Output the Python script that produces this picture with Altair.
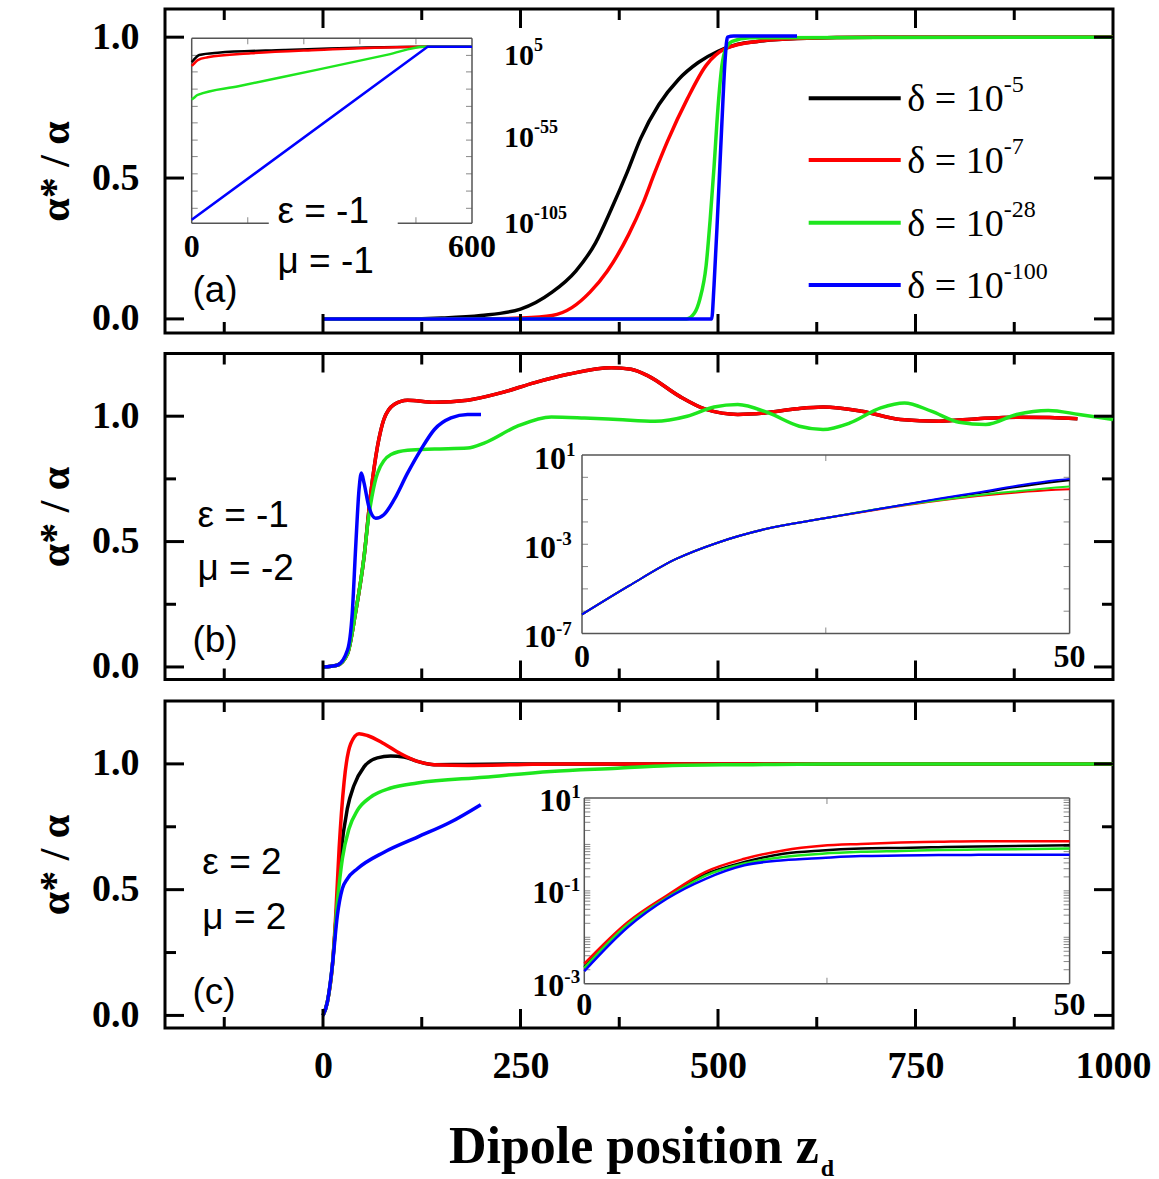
import math
import altair as alt
import pandas as pd

SERIF = "Liberation Serif"
SANS = "Liberation Sans"
SERIES = ["k", "r", "g", "b"]
COLORS = {"k": "#000000", "r": "#ff0000", "g": "#1ee61e", "b": "#0000ff"}
FRAME_GRAY = "#555555"

W = 948
H = {"a": 324, "b": 326, "c": 327}
X_DOMAIN = [-200, 1000]
Y_DOMAIN = {"a": [-0.05, 1.1], "b": [-0.05, 1.25], "c": [-0.05, 1.25]}

X_TICKS_MAJOR = [0, 250, 500, 750]
X_TICKS_MINOR = [-125, 125, 375, 625, 875]
X_LABELS = [0, 250, 500, 750, 1000]
Y_LABELS = [0.0, 0.5, 1.0]
Y_TICKS_MAJOR = [0.0, 0.5, 1.0]
Y_TICKS_MINOR = {"a": [], "b": [0.25, 0.75], "c": [0.25, 0.75]}

# ---------------- panel (a) main curves ----------------
A_X = {
    "k": [0, 100, 150, 200, 250, 290, 320, 345, 365, 385, 402, 425, 450, 475, 500, 525, 550, 600, 700, 1000],
    "r": [0, 200, 250, 290, 315, 338, 360, 387, 405, 420, 436, 461, 485, 510, 550, 600, 700, 1000],
    "g": [0, 460, 470, 477, 485, 490, 495, 500, 505, 510, 518, 540, 1000],
    "b": [0, 492, 495, 500, 505, 509, 512, 520, 600],
}
A_Y = {
    "k": [0, 0, 0.003, 0.012, 0.035, 0.095, 0.17, 0.27, 0.39, 0.52, 0.64, 0.76, 0.85, 0.91, 0.95, 0.975, 0.985, 0.995, 1.0, 1.0],
    "r": [0, 0, 0.003, 0.012, 0.04, 0.095, 0.17, 0.30, 0.41, 0.52, 0.63, 0.78, 0.90, 0.96, 0.985, 0.995, 1.0, 1.0],
    "g": [0, 0, 0.02, 0.07, 0.19, 0.35, 0.54, 0.75, 0.9, 0.96, 0.985, 0.998, 1.0],
    "b": [0, 0, 0.12, 0.4, 0.7, 0.92, 1.0, 1.004, 1.004],
}

# ---------------- panel (b) main curves ----------------
B_X = {
    "k": [0, 18, 31, 41, 52, 60, 69, 77, 90, 107, 141, 183, 225, 267, 310, 365, 390, 412, 451, 485, 525, 559, 600, 633, 682, 731, 780, 829, 878, 920, 955],
    "r": [0, 18, 31, 41, 52, 60, 69, 77, 90, 107, 141, 183, 225, 267, 310, 365, 390, 412, 451, 485, 525, 559, 600, 633, 682, 731, 780, 829, 878, 920, 955],
    "g": [0, 18, 31, 41, 52, 57, 62, 69, 86, 107, 141, 183, 204, 246, 289, 331, 373, 420, 461, 495, 525, 564, 603, 633, 667, 706, 736, 770, 805, 839, 878, 918, 957, 1000],
    "b": [0, 18, 31, 37, 41.4, 45.6, 48.5, 52, 58, 66.7, 77, 90, 107, 124, 141, 162, 183, 200],
}
B_Y = {
    "k": [0, 0.007, 0.053, 0.213, 0.44, 0.68, 0.88, 0.987, 1.047, 1.064, 1.056, 1.064, 1.093, 1.133, 1.167, 1.193, 1.187, 1.16, 1.08, 1.027, 1.007, 1.013, 1.03, 1.037, 1.02, 0.987, 0.98, 0.99, 0.996, 0.995, 0.99],
    "r": [0, 0.007, 0.053, 0.213, 0.44, 0.68, 0.88, 0.987, 1.047, 1.064, 1.056, 1.064, 1.093, 1.133, 1.167, 1.193, 1.187, 1.16, 1.08, 1.027, 1.007, 1.013, 1.03, 1.037, 1.02, 0.987, 0.98, 0.99, 0.996, 0.995, 0.99],
    "g": [0, 0.007, 0.053, 0.213, 0.44, 0.58, 0.68, 0.773, 0.847, 0.864, 0.869, 0.873, 0.893, 0.96, 0.997, 0.993, 0.987, 0.98, 1.0, 1.037, 1.047, 1.013, 0.96, 0.947, 0.973, 1.033, 1.053, 1.02, 0.976, 0.967, 1.007, 1.023, 1.007, 0.987],
    "b": [0, 0.007, 0.067, 0.213, 0.48, 0.707, 0.773, 0.733, 0.64, 0.593, 0.607, 0.667, 0.773, 0.867, 0.947, 0.993, 1.007, 1.007],
}

# ---------------- panel (c) main curves ----------------
C_X = {
    "k": [0, 5.5, 11.9, 16.1, 22.4, 30.8, 39.2, 51.9, 68.8, 85.7, 102.5, 119.5, 140.6, 180, 250, 1000],
    "r": [0, 5.5, 11.9, 16.1, 20.4, 26.7, 35.1, 45.6, 56.2, 77.3, 98.4, 119.5, 140.6, 182.8, 246, 300, 1000],
    "g": [0, 5.5, 11.9, 18.2, 24.5, 32.9, 43.5, 60.3, 85.7, 119.5, 203.9, 288.3, 372.6, 436, 534, 633, 1000],
    "b": [0, 5.5, 11.9, 18.2, 24.5, 30.8, 43.5, 77.3, 119.5, 161.7, 199.7],
}
C_Y = {
    "k": [0, 0.053, 0.2, 0.371, 0.636, 0.822, 0.914, 0.988, 1.024, 1.031, 1.027, 1.01, 0.997, 0.998, 1.0, 1.0],
    "r": [0, 0.053, 0.199, 0.398, 0.663, 0.928, 1.08, 1.12, 1.113, 1.08, 1.04, 1.01, 0.997, 0.994, 0.997, 1.0, 1.0],
    "g": [0, 0.053, 0.2, 0.451, 0.623, 0.742, 0.815, 0.868, 0.904, 0.924, 0.947, 0.970, 0.983, 0.993, 0.997, 1.0, 1.0],
    "b": [0, 0.053, 0.2, 0.398, 0.504, 0.543, 0.583, 0.649, 0.709, 0.769, 0.838],
}

# ---------------- insets (y values are log10 of alpha*/alpha) ----------------
IA_X = {
    "k": [0, 4, 16, 56, 198, 498, 600],
    "r": [0, 4, 13, 34, 127, 270, 498, 600],
    "g": [0, 5, 13, 100, 270, 420, 498, 600],
    "b": [0, 505, 600],
}
IA_Y = {
    "k": [-0.5, 0.9, 4.3, 5.8, 7.6, 9.8, 9.8],
    "r": [-3.0, -1.8, 0.9, 2.7, 5.4, 7.6, 9.8, 9.8],
    "g": [-25.5, -24.2, -22.4, -16.6, -5.5, 4.5, 9.8, 9.8],
    "b": [-105.7, 9.8, 9.8],
}
IB_XS = [0, 4.8, 9.6, 13.9, 18.7, 24.7, 30.7, 36.7, 40.6, 44.6, 48.6, 50]
IB_X = {s: IB_XS for s in SERIES}
IB_Y = {
    "k": [-6.15, -4.87, -3.67, -2.93, -2.33, -1.85, -1.40, -0.97, -0.72, -0.44, -0.20, -0.13],
    "r": [-6.15, -4.87, -3.67, -2.93, -2.33, -1.85, -1.42, -1.04, -0.84, -0.68, -0.56, -0.53],
    "g": [-6.15, -4.87, -3.67, -2.93, -2.33, -1.85, -1.40, -1.02, -0.80, -0.62, -0.46, -0.41],
    "b": [-6.15, -4.87, -3.67, -2.93, -2.33, -1.85, -1.40, -0.95, -0.68, -0.38, -0.13, -0.07],
}
IC_XS = [0, 4.5, 8.5, 12.5, 16.5, 20.5, 24.5, 28.5, 32.6, 36.5, 40.6, 50]
IC_X = {s: IC_XS for s in SERIES}
IC_Y = {
    "k": [-2.64, -1.70, -1.13, -0.64, -0.38, -0.20, -0.13, -0.09, -0.075, -0.06, -0.045, -0.02],
    "r": [-2.57, -1.67, -1.10, -0.59, -0.31, -0.13, -0.03, 0.01, 0.04, 0.055, 0.07, 0.07],
    "g": [-2.66, -1.72, -1.15, -0.67, -0.41, -0.27, -0.20, -0.16, -0.14, -0.12, -0.11, -0.09],
    "b": [-2.73, -1.78, -1.17, -0.74, -0.45, -0.34, -0.29, -0.25, -0.24, -0.23, -0.225, -0.22],
}

LEGEND_EXP = ["-5", "-7", "-28", "-100"]
LEGEND_ROW_Y = [0.783, 0.564, 0.341, 0.120]

ANNOT = {
    "a": {"label": ["ε = -1", "μ = -1", "(a)"], "x": [-57.7, -57.7, -165.3], "y": [0.339, 0.162, 0.061]},
    "b": {"label": ["ε = -1", "μ = -2", "(b)"], "x": [-159, -159, -165.3], "y": [0.557, 0.345, 0.059]},
    "c": {"label": ["ε = 2", "μ = 2", "(c)"], "x": [-152.7, -152.7, -165.3], "y": [0.563, 0.345, 0.046]},
}


def X(field, axis=None):
    return alt.X(f"{field}:Q", scale=alt.Scale(domain=X_DOMAIN, nice=False, zero=False), axis=axis)


def Y(field, p, axis=None):
    return alt.Y(f"{field}:Q", scale=alt.Scale(domain=Y_DOMAIN[p], nice=False, zero=False), axis=axis)


X_AXIS = alt.Axis(values=X_LABELS, format="d", title=None, labelFont=SERIF, labelFontSize=38,
                  labelFontWeight="bold", labelColor="black", labelPadding=19, labelFlush=False,
                  labelOverlap=False, ticks=False, tickSize=0, domain=False, grid=False)
Y_AXIS = alt.Axis(values=Y_LABELS, format=".1f", title="α* / α", titleFont=SERIF, titleFontSize=42,
                  titleFontWeight="bold", titleColor="black", titlePadding=14, labelFont=SERIF,
                  labelFontSize=38, labelFontWeight="bold", labelColor="black", labelPadding=26,
                  labelFlush=False, labelOverlap=False, ticks=False, tickSize=0, domain=False, grid=False)


def main_layers(p, xs, ys, show_x):
    layers = []
    for i, s in enumerate(SERIES):
        df = pd.DataFrame({"zd": xs[s], "val": ys[s]})
        layers.append(
            alt.Chart(df).mark_line(color=COLORS[s], strokeWidth=3.5, interpolate="monotone")
            .encode(x=X("zd", X_AXIS if (i == 0 and show_x) else None),
                    y=Y("val", p, Y_AXIS if i == 0 else None))
        )
    h = H[p]
    for ticks, ln in ((X_TICKS_MAJOR, 19), (X_TICKS_MINOR, 11)):
        df = pd.DataFrame({"t": ticks})
        layers.append(alt.Chart(df).mark_rule(color="black", strokeWidth=3)
                      .encode(x=X("t"), y=alt.value(0), y2=alt.value(ln)))
        layers.append(alt.Chart(df).mark_rule(color="black", strokeWidth=3)
                      .encode(x=X("t"), y=alt.value(h), y2=alt.value(h - ln)))
    for ticks, ln in ((Y_TICKS_MAJOR, 19), (Y_TICKS_MINOR[p], 11)):
        if not ticks:
            continue
        df = pd.DataFrame({"t": ticks})
        layers.append(alt.Chart(df).mark_rule(color="black", strokeWidth=3)
                      .encode(y=Y("t", p), x=alt.value(0), x2=alt.value(ln)))
        layers.append(alt.Chart(df).mark_rule(color="black", strokeWidth=3)
                      .encode(y=Y("t", p), x=alt.value(W), x2=alt.value(W - ln)))
    ann = pd.DataFrame(ANNOT[p])
    layers.append(alt.Chart(ann).mark_text(font=SANS, fontSize=37, align="left", baseline="alphabetic",
                                           color="black")
                  .encode(x=X("x"), y=Y("y", p), text="label:N"))
    return layers


def legend_layers():
    df = pd.DataFrame({"s": SERIES, "y": LEGEND_ROW_Y, "x0": [614.8] * 4, "x1": [731.3] * 4,
                       "xt": [861.6] * 4, "base": ["δ = 10"] * 4, "exp": LEGEND_EXP})
    cscale = alt.Scale(domain=SERIES, range=[COLORS[s] for s in SERIES])
    rules = alt.Chart(df).mark_rule(strokeWidth=4).encode(
        x=X("x0"), x2="x1:Q", y=Y("y", "a"), color=alt.Color("s:N", scale=cscale, legend=None))
    base = alt.Chart(df).mark_text(font=SERIF, fontSize=38, align="right", baseline="alphabetic",
                                   dy=13, color="black").encode(x=X("xt"), y=Y("y", "a"), text="base:N")
    sup = alt.Chart(df).mark_text(font=SERIF, fontSize=24, align="left", baseline="alphabetic",
                                  dy=-6, color="black").encode(x=X("xt"), y=Y("y", "a"), text="exp:N")
    return [rules, base, sup]


def xtitle_layers():
    df1 = pd.DataFrame({"x": [627.5], "label": ["Dipole position z"]})
    df2 = pd.DataFrame({"x": [628.7], "label": ["d"]})
    t1 = alt.Chart(df1).mark_text(font=SERIF, fontSize=52, fontWeight="bold", align="right",
                                  baseline="alphabetic", color="black").encode(
        x=X("x"), y=alt.value(462), text="label:N")
    t2 = alt.Chart(df2).mark_text(font=SERIF, fontSize=24, fontWeight="bold", align="left",
                                  baseline="alphabetic", dx=1, color="black").encode(
        x=X("x"), y=alt.value(475), text="label:N")
    return [t1, t2]


def inset_layers(xs, ys, xdom, xrange, ydom, yrange, lw, frame, xt_top, xt_bot, yt,
                 xlabels, xlab_dy, xlab_size, ylabels, ylab_size, sup_size, interp="monotone"):
    xsc = alt.Scale(domain=xdom, range=xrange, nice=False, zero=False)
    ysc = alt.Scale(domain=ydom, range=yrange, nice=False, zero=False)

    def IX(f):
        return alt.X(f"{f}:Q", scale=xsc, axis=None)

    def IY(f):
        return alt.Y(f"{f}:Q", scale=ysc, axis=None)

    layers = []
    fdf = pd.DataFrame(frame, columns=["x0", "x1", "y0", "y1"])
    layers.append(alt.Chart(fdf).mark_rule(color=FRAME_GRAY, strokeWidth=1.5)
                  .encode(x=IX("x0"), x2="x1:Q", y=IY("y0"), y2="y1:Q"))
    tl = pd.DataFrame({"e": [xdom[0]] * len(yt), "t": yt})
    tr = pd.DataFrame({"e": [xdom[1]] * len(yt), "t": yt})
    layers.append(alt.Chart(tl).mark_tick(orient="horizontal", size=6, thickness=1, xOffset=3,
                                          color=FRAME_GRAY).encode(x=IX("e"), y=IY("t")))
    layers.append(alt.Chart(tr).mark_tick(orient="horizontal", size=6, thickness=1, xOffset=-3,
                                          color=FRAME_GRAY).encode(x=IX("e"), y=IY("t")))
    tb = pd.DataFrame({"t": xt_bot, "e": [ydom[0]] * len(xt_bot)})
    tt = pd.DataFrame({"t": xt_top, "e": [ydom[1]] * len(xt_top)})
    layers.append(alt.Chart(tb).mark_tick(orient="vertical", size=6, thickness=1, yOffset=-3,
                                          color=FRAME_GRAY).encode(x=IX("t"), y=IY("e")))
    layers.append(alt.Chart(tt).mark_tick(orient="vertical", size=6, thickness=1, yOffset=3,
                                          color=FRAME_GRAY).encode(x=IX("t"), y=IY("e")))
    for s in SERIES:
        df = pd.DataFrame({"xx": xs[s], "lv": ys[s]})
        mode = "linear" if (interp == "mixed" and s == "b") else "monotone"
        layers.append(alt.Chart(df).mark_line(color=COLORS[s], strokeWidth=lw, interpolate=mode)
                      .encode(x=IX("xx"), y=IY("lv")))
    xl = pd.DataFrame({"x": [xdom[0], xdom[1]], "e": [ydom[0]] * 2, "label": xlabels})
    layers.append(alt.Chart(xl).mark_text(font=SERIF, fontSize=xlab_size, fontWeight="bold", align="center",
                                          baseline="alphabetic", dy=xlab_dy, color="black")
                  .encode(x=IX("x"), y=IY("e"), text="label:N"))
    for (edge, v, exp, dx, dyb, dys) in ylabels:
        d = pd.DataFrame({"x": [edge], "v": [v], "base": ["10"], "exp": [exp]})
        layers.append(alt.Chart(d).mark_text(font=SERIF, fontSize=ylab_size, fontWeight="bold", align="right",
                                             baseline="alphabetic", dx=dx, dy=dyb, color="black")
                      .encode(x=IX("x"), y=IY("v"), text="base:N"))
        layers.append(alt.Chart(d).mark_text(font=SERIF, fontSize=sup_size, fontWeight="bold", align="left",
                                             baseline="alphabetic", dx=dx, dy=dys, color="black")
                      .encode(x=IX("x"), y=IY("v"), text="exp:N"))
    return layers


# ---------------- inset definitions ----------------
IA_YTICKS = [4, -7, -18.5, -30, -41, -52.5, -63.5, -75, -86.5, -98]
IB_YTICKS = [-6, -5, -4, -3, -2, -1, 0]
IC_YTICKS = [d + math.log10(k) for d in (-3, -2, -1, 0) for k in range(1, 10)][1:]

inset_a = inset_layers(
    IA_X, IA_Y, [0, 600], [26.7, 307], [-108, 15.4], [214.3, 29.3], 2.5,
    [(0, 600, 15.4, 15.4), (0, 0, -108, 15.4), (600, 600, -108, 15.4), (0, 165, -108, -108),
     (441, 600, -108, -108)],
    [120, 240, 360, 480], [120, 480], IA_YTICKS,
    ["0", "600"], 33.4, 32,
    [(600, 5, "5", 62, 11, -3), (600, -55, "-55", 62, 3, -11), (600, -105, "-105", 62, 14.4, 0.4)],
    30, 18, interp="mixed")

inset_b = inset_layers(
    IB_X, IB_Y, [0, 50], [417, 904.6], [-7, 1], [280, 101.5], 2,
    [(0, 50, 1, 1), (0, 50, -7, -7), (0, 0, -7, 1), (50, 50, -7, 1)],
    [25], [25], IB_YTICKS,
    ["0", "50"], 33.4, 32,
    [(0, 1, "1", -16, 13.5, 1), (0, -3, "-3", -26, 13.5, 1), (0, -7, "-7", -26, 13.5, 1)],
    32, 19)

inset_c = inset_layers(
    IC_X, IC_Y, [0, 50], [419.3, 904.6], [-3, 1], [282.7, 97], 2.5,
    [(0, 50, 1, 1), (0, 50, -3, -3), (0, 0, -3, 1), (50, 50, -3, 1)],
    [25], [25], IC_YTICKS,
    ["0", "50"], 31.6, 32,
    [(0, 1, "1", -13, 12.5, 0), (0, -1, "-1", -20, 12.5, 0), (0, -3, "-3", -20, 12.5, -1)],
    32, 19)


def panel(p, main, inset):
    # every layer carries its own (explicit) scales; main layers share identical domains/ranges
    return (alt.layer(*main, *inset)
            .resolve_scale(x="independent", y="independent")
            .properties(width=W, height=H[p]))


pa = panel("a", main_layers("a", A_X, A_Y, False) + legend_layers(), inset_a)
pb = panel("b", main_layers("b", B_X, B_Y, False), inset_b)
pc = panel("c", main_layers("c", C_X, C_Y, True) + xtitle_layers(), inset_c)

chart = (alt.vconcat(pa, pb, pc, spacing=10.5)
         .properties(padding={"left": 33, "top": 6, "right": 0, "bottom": 0})
         .configure_view(stroke="black", strokeWidth=3))

chart.save("out.html", embed_options={"renderer": "svg", "actions": False})
